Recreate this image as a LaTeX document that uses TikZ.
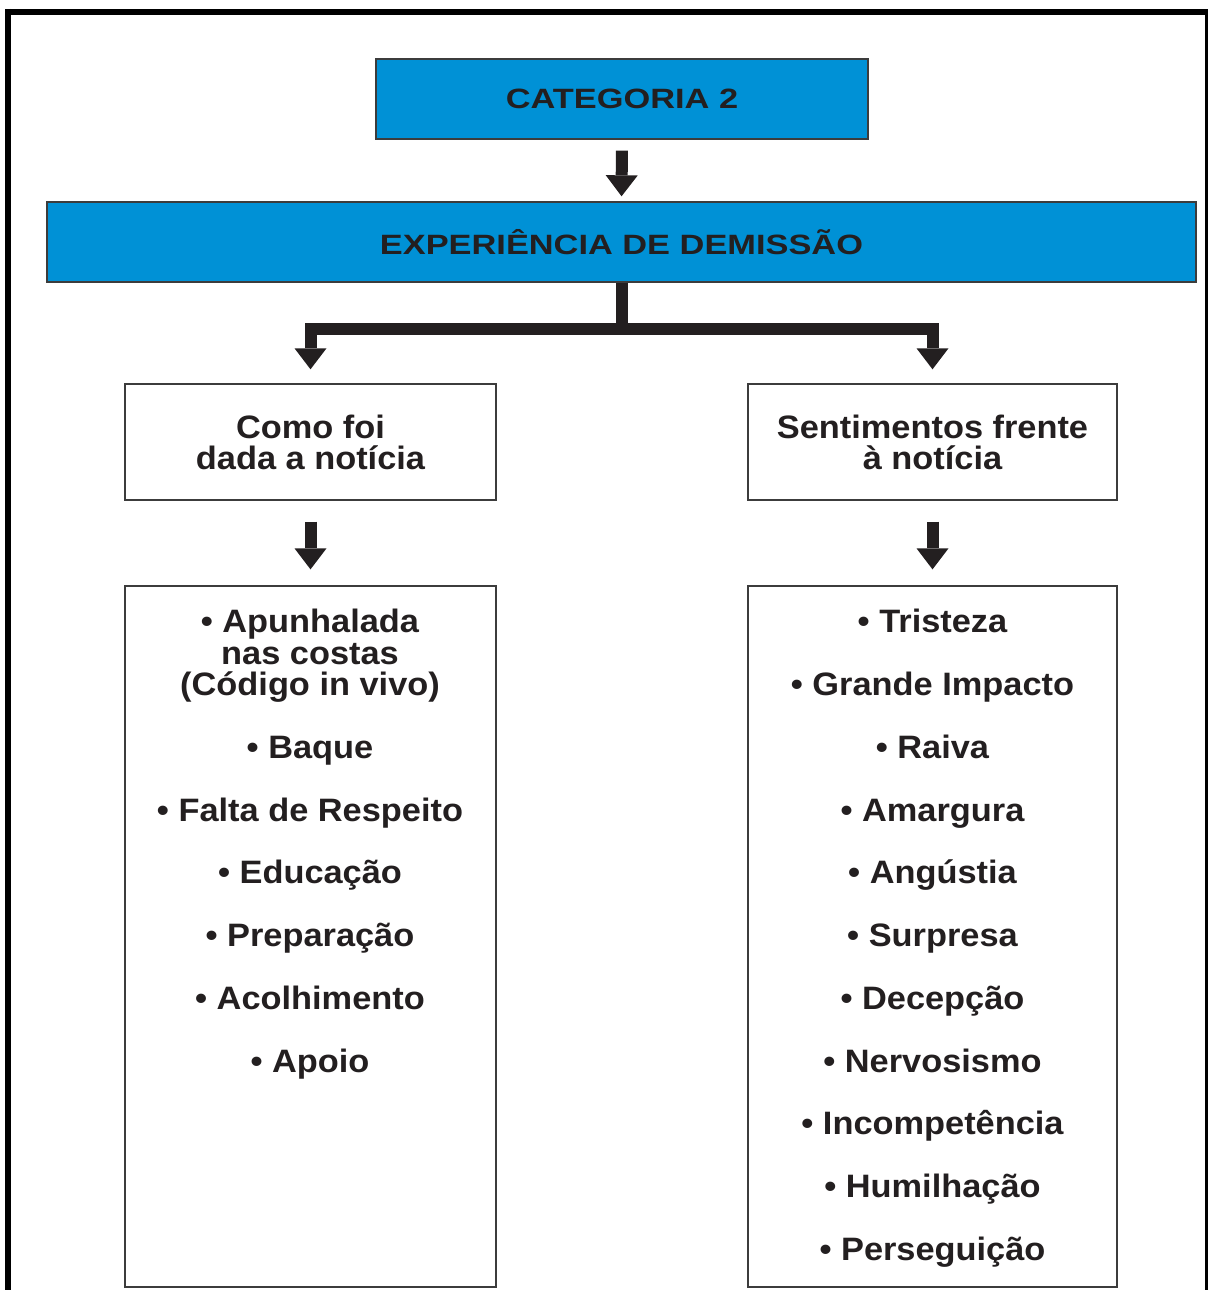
\documentclass[tikz,border=0pt]{standalone}
\usepackage{fontspec}
\usetikzlibrary{arrows.meta}
\newfontfamily\headfont{Liberation Sans}[FakeStretch=1.23]
\newfontfamily\bodyfont{Liberation Sans}[FakeStretch=1.06]
\definecolor{boxblue}{RGB}{0,145,214}
\definecolor{ink}{RGB}{35,31,32}
\definecolor{edge}{RGB}{60,60,60}

\begin{document}
\begin{tikzpicture}[x=0.02cm,y=-0.02cm,
  bluebox/.style={draw=edge, line width=0.8pt, fill=boxblue, inner sep=0pt,
    text=ink, font=\headfont\bfseries\fontsize{15.9}{18}\selectfont},
  whitebox/.style={draw=edge, line width=0.8pt, fill=white, inner sep=0pt,
    text=ink, align=center, font=\bodyfont\bfseries\fontsize{18.45}{17.6}\selectfont},
  listtext/.style={text=ink, align=center, inner sep=0pt, anchor=north,
    font=\bodyfont\bfseries\fontsize{18.45}{17.86}\selectfont},
  frameline/.style={draw=black, line cap=butt},
  blocktip/.tip={Triangle[length=0.42cm 0 0, width=0.64cm 0 0, line width=0pt]},
  blockarrow/.style={draw=ink, line width=0.24cm, line cap=butt, -blocktip},
  barline/.style={draw=ink, line width=0.24cm, line cap=butt, line join=miter},
]
\useasboundingbox (0,0) rectangle (1209,1290);

% page frame: heavy top and left rules, lighter right rule
\draw[frameline, line width=0.12cm] (5,12) -- (1208,12);
\draw[frameline, line width=0.12cm] (8,9) -- (8,1290);
\draw[frameline, line width=0.06cm] (1206.5,12) -- (1206.5,1290);

% headings
\node[bluebox, minimum width=9.84cm, minimum height=1.6cm] (cat) at (622,99) {CATEGORIA 2};
\node[bluebox, minimum width=22.98cm, minimum height=1.6cm] (exp) at (621.5,242) {EXPERIÊNCIA DE DEMISSÃO};

% the two branches
\node[whitebox, minimum width=7.42cm, minimum height=2.32cm] (como) at (310.5,442) {Como foi\\dada a notícia};
\node[whitebox, minimum width=7.38cm, minimum height=2.32cm] (sent) at (932.5,442) {Sentimentos frente\\à notícia};

% list frames
\node[whitebox, minimum width=7.42cm, minimum height=14.02cm] (listL) at (310.5,936.5) {};
\node[whitebox, minimum width=7.38cm, minimum height=14.02cm] (listR) at (932.5,936.5) {};

% list contents
\node[listtext] (itemsL) at (310,609) {%
  • Apunhalada\\ nas costas\\ (Código in vivo)\\[17.86pt]
  • Baque\\[17.86pt]
  • Falta de Respeito\\[17.86pt]
  • Educação\\[17.86pt]
  • Preparação\\[17.86pt]
  • Acolhimento\\[17.86pt]
  • Apoio};
\node[listtext] (itemsR) at (932.5,609) {%
  • Tristeza\\[17.86pt]
  • Grande Impacto\\[17.86pt]
  • Raiva\\[17.86pt]
  • Amargura\\[17.86pt]
  • Angústia\\[17.86pt]
  • Surpresa\\[17.86pt]
  • Decepção\\[17.86pt]
  • Nervosismo\\[17.86pt]
  • Incompetência\\[17.86pt]
  • Humilhação\\[17.86pt]
  • Perseguição};

% connectors
\coordinate (split) at (622,329);
\draw[blockarrow, shorten <=0.22cm, shorten >=0.1cm] (cat.south) -- (exp.north);
\draw[barline] (exp.south -| split) -- (split);
\draw[barline, blocktip-blocktip, shorten <=0.28cm, shorten >=0.28cm]
  (como.north) -- (como.north |- split) -- (sent.north |- split) -- (sent.north);
\draw[blockarrow, shorten <=0.42cm, shorten >=0.32cm] (como.south) -- (listL.north);
\draw[blockarrow, shorten <=0.42cm, shorten >=0.32cm] (sent.south) -- (listR.north);
\end{tikzpicture}
\end{document}
